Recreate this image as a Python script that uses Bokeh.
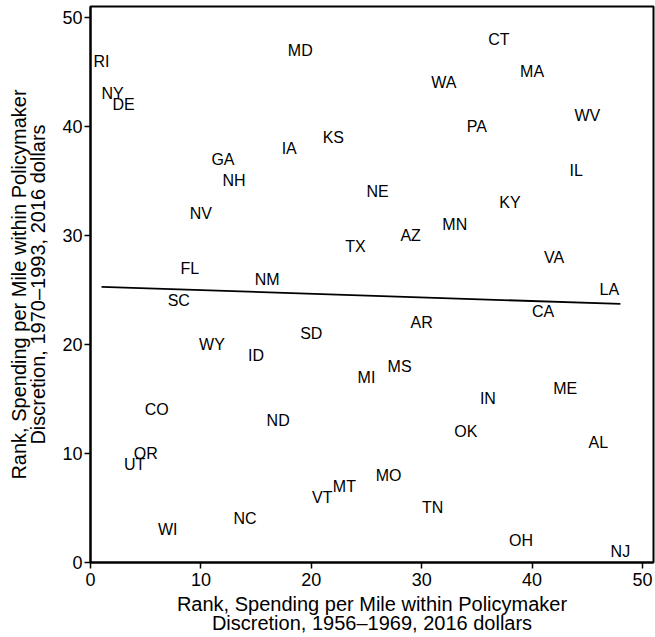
import numpy as np
from bokeh.plotting import figure
from bokeh.models import ColumnDataSource, FixedTicker
from bokeh.core.properties import value
from bokeh.embed import file_html
from bokeh.resources import INLINE

states = ["RI", "NY", "DE", "UT", "OR", "CO", "WI", "SC", "FL", "NV", "WY", "GA",
          "NH", "NC", "ID", "NM", "ND", "IA", "MD", "SD", "VT", "KS", "MT", "TX",
          "MI", "NE", "MO", "MS", "AZ", "AR", "TN", "WA", "MN", "OK", "PA", "IN",
          "CT", "KY", "OH", "MA", "CA", "VA", "ME", "IL", "WV", "AL", "LA", "NJ"]
rank_1956 = [1, 2, 3, 4, 5, 6, 7, 8, 9, 10, 11, 12,
             13, 14, 15, 16, 17, 18, 19, 20, 21, 22, 23, 24,
             25, 26, 27, 28, 29, 30, 31, 32, 33, 34, 35, 36,
             37, 38, 39, 40, 41, 42, 43, 44, 45, 46, 47, 48]
rank_1970 = [46, 43, 42, 9, 10, 14, 3, 24, 27, 32, 20, 37,
             35, 4, 19, 26, 13, 38, 47, 21, 6, 39, 7, 29,
             17, 34, 8, 18, 30, 22, 5, 44, 31, 12, 40, 15,
             48, 33, 2, 45, 23, 28, 16, 36, 41, 11, 25, 1]
ticks = [0, 10, 20, 30, 40, 50]
x_title = "Rank, Spending per Mile within Policymaker\nDiscretion, 1956\u20131969, 2016 dollars"
y_title = "Rank, Spending per Mile within Policymaker\nDiscretion, 1970\u20131993, 2016 dollars"

FONT = "Liberation Sans"

p = figure(width=655, height=637, x_range=(0, 51), y_range=(0, 51),
           output_backend="svg", toolbar_location=None,
           min_border_left=90, min_border_right=2, min_border_top=6, min_border_bottom=74)
p.background_fill_color = "white"
p.border_fill_color = "white"
p.outline_line_color = "black"
p.outline_line_width = 2
p.xgrid.visible = False
p.ygrid.visible = False

for ax in (p.xaxis[0], p.yaxis[0]):
    ax.ticker = FixedTicker(ticks=ticks)
    ax.minor_tick_line_color = None
    ax.major_tick_in = 0
    ax.major_tick_out = 6
    ax.major_tick_line_width = 1.5
    ax.axis_line_width = 2
    ax.major_label_text_font = FONT
    ax.major_label_text_font_size = "18px"
    ax.major_label_text_color = "black"
    ax.axis_label_text_font = FONT
    ax.axis_label_text_font_size = "20px"
    ax.axis_label_text_font_style = "normal"
    ax.axis_label_text_color = "black"
    ax.axis_label_text_line_height = 0.9

p.xaxis.axis_label = x_title
p.yaxis.axis_label = y_title
p.xaxis.major_label_standoff = 4
p.yaxis.major_label_standoff = 2
p.xaxis.axis_label_standoff = 4
p.yaxis.axis_label_standoff = 10

src = ColumnDataSource(dict(x=rank_1956, y=rank_1970, s=states))
p.text(x="x", y="y", text="s", source=src, text_align="center", text_baseline="middle",
       text_font=value(FONT), text_font_size="16px", text_color="black")

slope, intercept = np.polyfit(rank_1956, rank_1970, 1)
xs = [min(rank_1956), max(rank_1956)]
ys = [intercept + slope * v for v in xs]
p.line(xs, ys, line_color="black", line_width=1.8)

open("out.html", "w").write(file_html(p, INLINE))
